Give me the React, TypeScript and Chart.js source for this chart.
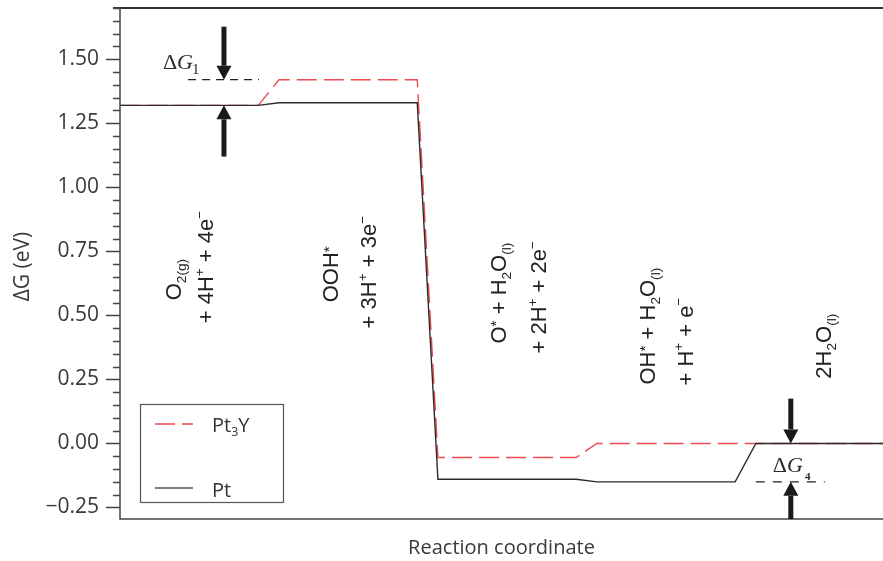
import { useEffect, useRef } from "react";
import { Chart, registerables } from "chart.js";

Chart.register(...registerables);

// Reaction coordinate: plateau k runs from stepStarts[k] to stepStarts[k] + PLATEAU
const stepStarts = [0, 1, 2, 3, 4];
const PLATEAU = 0.87;
const X_MAX = 4.8;

// Free energy of each intermediate (eV)
const seriesNames = ["Pt3Y", "Pt"];
const pt3yLevels = [1.32, 1.42, -0.055, 0.0, 0.0];
const ptLevels = [1.32, 1.33, -0.14, -0.15, 0.0];

// Axis
const yTickValues = [-0.25, 0, 0.25, 0.5, 0.75, 1.0, 1.25, 1.5];
const Y_MIN = -0.295;
const Y_MAX = 1.7;
const MINOR_STEP = 0.05;

type Seg = { t: string; s?: "sub" | "sup" | "star" };

// Rotated state labels: anchor = (reaction coordinate, energy) at the start of each line
const stateLabels: { x: number; y: number; segs: Seg[] }[] = [
  { x: 0.333, y: 0.559, segs: [{ t: "O" }, { t: "2(g)", s: "sub" }] },
  { x: 0.535, y: 0.469, segs: [{ t: "+ 4H" }, { t: "+", s: "sup" }, { t: " + 4e" }, { t: "\u2212", s: "sup" }] },
  { x: 1.321, y: 0.551, segs: [{ t: "OOH" }, { t: "*", s: "star" }] },
  { x: 1.56, y: 0.449, segs: [{ t: "+ 3H" }, { t: "+", s: "sup" }, { t: " + 3e" }, { t: "\u2212", s: "sup" }] },
  { x: 2.377, y: 0.39, segs: [{ t: "O" }, { t: "*", s: "star" }, { t: " + H" }, { t: "2", s: "sub" }, { t: "O" }, { t: "(l)", s: "sub" }] },
  { x: 2.629, y: 0.351, segs: [{ t: "+ 2H" }, { t: "+", s: "sup" }, { t: " + 2e" }, { t: "\u2212", s: "sup" }] },
  { x: 3.314, y: 0.23, segs: [{ t: "OH" }, { t: "*", s: "star" }, { t: " + H" }, { t: "2", s: "sub" }, { t: "O" }, { t: "(l)", s: "sub" }] },
  { x: 3.553, y: 0.226, segs: [{ t: "+ H" }, { t: "+", s: "sup" }, { t: " + e" }, { t: "\u2212", s: "sup" }] },
  { x: 4.421, y: 0.253, segs: [{ t: "2H" }, { t: "2", s: "sub" }, { t: "O" }, { t: "(l)", s: "sub" }] },
];

const SANS = "'Open Sans', sans-serif";
const ARIAL = "'Liberation Sans', Arial, sans-serif";
const SERIF = "'Liberation Serif', 'Times New Roman', serif";
const RED = "#ef4a4f";
const DARK = "#2b2b2b";

function profile(levels: number[]) {
  const pts: { x: number; y: number }[] = [];
  levels.forEach((g, k) => {
    const x0 = stepStarts[k];
    const x1 = k === levels.length - 1 ? X_MAX : x0 + PLATEAU;
    pts.push({ x: x0, y: g }, { x: x1, y: g });
  });
  return pts;
}

function drawRich(ctx: CanvasRenderingContext2D, segs: Seg[], x: number, y: number, fs: number, family: string) {
  let cx = x;
  for (const s of segs) {
    let size = fs;
    let dy = 0;
    if (s.s === "sub") {
      size = fs * 0.62;
      dy = fs * 0.22;
    } else if (s.s === "sup") {
      size = fs * 0.62;
      dy = -fs * 0.42;
    } else if (s.s === "star") {
      size = fs * 0.7;
      dy = -fs * 0.2;
    }
    ctx.font = `${size}px ${family}`;
    ctx.fillText(s.t, cx, y + dy);
    cx += ctx.measureText(s.t).width;
  }
}

function arrow(ctx: CanvasRenderingContext2D, x: number, yTail: number, yTip: number) {
  const dir = Math.sign(yTip - yTail);
  const head = 14;
  const half = 7.5;
  const shaft = 2.5;
  const yBase = yTip - dir * head;
  ctx.fillRect(x - shaft, Math.min(yTail, yBase), shaft * 2, Math.abs(yBase - yTail));
  ctx.beginPath();
  ctx.moveTo(x - half, yBase);
  ctx.lineTo(x + half, yBase);
  ctx.lineTo(x, yTip);
  ctx.closePath();
  ctx.fill();
}

function deltaG(ctx: CanvasRenderingContext2D, x: number, y: number, sub: string, subFont: string, subDx: number, subDy: number) {
  ctx.textAlign = "left";
  ctx.textBaseline = "alphabetic";
  ctx.font = `22px ${SERIF}`;
  ctx.fillText("\u0394", x, y);
  const w = ctx.measureText("\u0394").width;
  ctx.font = `italic 22px ${SERIF}`;
  ctx.fillText("G", x + w, y);
  const w2 = ctx.measureText("G").width;
  ctx.font = subFont;
  ctx.fillText(sub, x + w + w2 + subDx, y + subDy);
}

const noPadding = (s: any) => {
  s.paddingTop = 0;
  s.paddingBottom = 0;
  s.paddingLeft = 0;
  s.paddingRight = 0;
};

const decor = {
  id: "decor",
  afterDraw(chart: any) {
    const { ctx, chartArea: a, scales } = chart;
    const X = (v: number) => scales.x.getPixelForValue(v);
    const Y = (v: number) => scales.y.getPixelForValue(v);
    ctx.save();

    // frame
    ctx.strokeStyle = "#333";
    ctx.lineWidth = 2;
    ctx.beginPath();
    ctx.moveTo(113, a.top);
    ctx.lineTo(a.right, a.top);
    ctx.stroke();
    ctx.strokeStyle = "#444";
    ctx.lineWidth = 1.5;
    ctx.beginPath();
    ctx.moveTo(a.left, a.top);
    ctx.lineTo(a.left, a.bottom);
    ctx.lineTo(a.right, a.bottom);
    ctx.stroke();

    // y tick marks, major every 0.25 and minor every 0.05
    ctx.lineWidth = 1.5;
    const first = Math.ceil(Y_MIN / MINOR_STEP - 1e-6);
    const last = Math.floor(Y_MAX / MINOR_STEP + 1e-6);
    for (let i = first; i <= last; i++) {
      const py = Math.round(Y(i * MINOR_STEP)) + 0.5;
      const len = i % 5 === 0 ? 14 : 7;
      ctx.beginPath();
      ctx.moveTo(a.left - len, py);
      ctx.lineTo(a.left, py);
      ctx.stroke();
    }

    // y axis title
    ctx.save();
    ctx.translate(23, (a.top + a.bottom) / 2 + 3);
    ctx.rotate(-Math.PI / 2);
    ctx.fillStyle = "#3a3a3a";
    ctx.textAlign = "center";
    ctx.textBaseline = "middle";
    ctx.font = `21px ${SANS}`;
    ctx.fillText("\u0394G (eV)", 0, 0);
    ctx.restore();

    // state labels
    ctx.fillStyle = "#222";
    ctx.textAlign = "left";
    ctx.textBaseline = "alphabetic";
    const fs = 22;
    for (const l of stateLabels) {
      ctx.save();
      ctx.translate(X(l.x), Y(l.y));
      ctx.rotate(-Math.PI / 2);
      drawRich(ctx, l.segs, 0, fs * 0.36, fs, ARIAL);
      ctx.restore();
    }

    // ΔG1 marker
    ctx.strokeStyle = "#222";
    ctx.lineWidth = 1.2;
    ctx.setLineDash([8, 6]);
    ctx.beginPath();
    ctx.moveTo(X(0.428), Y(pt3yLevels[1]));
    ctx.lineTo(X(0.874), Y(pt3yLevels[1]));
    ctx.stroke();
    // ΔG4 marker
    ctx.setLineDash([9, 8]);
    ctx.beginPath();
    ctx.moveTo(X(4.0), Y(ptLevels[3]));
    ctx.lineTo(X(4.434), Y(ptLevels[3]));
    ctx.stroke();
    ctx.setLineDash([]);

    ctx.fillStyle = "#1a1a1a";
    arrow(ctx, X(0.654), Y(1.627), Y(pt3yLevels[1]));
    arrow(ctx, X(0.654), Y(1.12), Y(ptLevels[0]));
    arrow(ctx, X(4.22), Y(0.175), Y(ptLevels[4]));
    arrow(ctx, X(4.22), a.bottom, Y(ptLevels[3]));

    ctx.fillStyle = DARK;
    deltaG(ctx, X(0.27), Y(1.46), "1", `15px ${SERIF}`, -1, 5);
    deltaG(ctx, X(4.107), Y(-0.112), "4", `bold 11px ${SERIF}`, 2, 8);

    // legend
    ctx.strokeStyle = "#555";
    ctx.lineWidth = 1.2;
    ctx.strokeRect(140.5, 404.5, 143, 98);
    ctx.lineWidth = 1.4;
    ctx.strokeStyle = RED;
    ctx.setLineDash([20, 7]);
    ctx.beginPath();
    ctx.moveTo(155, 424);
    ctx.lineTo(193, 424);
    ctx.stroke();
    ctx.setLineDash([]);
    ctx.strokeStyle = "#555";
    ctx.lineWidth = 1.6;
    ctx.beginPath();
    ctx.moveTo(155, 488);
    ctx.lineTo(193, 488);
    ctx.stroke();
    ctx.fillStyle = "#333";
    ctx.textAlign = "left";
    ctx.textBaseline = "alphabetic";
    drawRich(ctx, [{ t: "Pt" }, { t: "3", s: "sub" }, { t: "Y" }], 212, 432, 20, SANS);
    drawRich(ctx, [{ t: seriesNames[1] }], 212, 497, 20, SANS);

    ctx.restore();
  },
};

export default function App() {
  const ref = useRef<HTMLCanvasElement>(null);

  useEffect(() => {
    const chart = new Chart(ref.current!, {
      type: "line",
      data: {
        datasets: [
          {
            label: seriesNames[0],
            data: profile(pt3yLevels),
            borderColor: RED,
            borderWidth: 1.4,
            borderDash: [20, 7],
            pointRadius: 0,
            tension: 0,
            order: 1,
          },
          {
            label: seriesNames[1],
            data: profile(ptLevels),
            borderColor: DARK,
            borderWidth: 1.4,
            pointRadius: 0,
            tension: 0,
            order: 0,
          },
        ],
      },
      options: {
        animation: false,
        responsive: false,
        devicePixelRatio: 1,
        layout: { padding: { top: 8, right: 0, bottom: 0, left: 0 } },
        plugins: { legend: { display: false }, tooltip: { enabled: false } },
        scales: {
          x: {
            type: "linear",
            min: 0,
            max: X_MAX,
            grid: { display: false, drawTicks: false },
            border: { display: false },
            ticks: { display: false },
            title: {
              display: true,
              text: "Reaction coordinate",
              font: { family: SANS, size: 20 },
              color: "#3a3a3a",
              padding: { top: 0, bottom: 1 },
            },
            afterFit: (s: any) => {
              s.height = 42;
              noPadding(s);
            },
          },
          y: {
            type: "linear",
            min: Y_MIN,
            max: Y_MAX,
            afterBuildTicks: (s: any) => {
              s.ticks = yTickValues.map((v) => ({ value: v }));
            },
            grid: { display: false, drawTicks: false },
            border: { display: false },
            ticks: {
              padding: 21,
              font: { family: SANS, size: 21 },
              color: "#3a3a3a",
              callback: (v: any) => {
                const n = Number(v);
                return (n < 0 ? "\u2212" : "") + Math.abs(n).toFixed(2);
              },
            },
            afterFit: (s: any) => {
              s.width = 120;
              noPadding(s);
            },
          },
        },
      },
      plugins: [decor],
    });
    return () => chart.destroy();
  }, []);

  return (
    <div style={{ position: "fixed", left: 0, top: 0, width: 883, height: 561, background: "#fff" }}>
      <canvas ref={ref} width={883} height={561} />
    </div>
  );
}
